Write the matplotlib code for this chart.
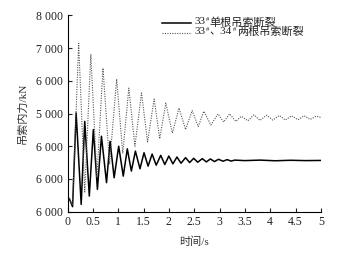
import matplotlib
matplotlib.use("Agg")
import matplotlib.pyplot as plt
from matplotlib.lines import Line2D
from matplotlib.offsetbox import (AnchoredOffsetbox, DrawingArea, HPacker,
                                  TextArea, VPacker)

plt.rcParams['font.family'] = ['Liberation Serif', 'Noto Sans CJK SC']

# extrema (time in s, force in kN)
t_single = [0.0, 0.04, 0.10, 0.17, 0.27, 0.34, 0.43, 0.51, 0.59, 0.67, 0.77, 0.84,
            0.92, 1.01, 1.10, 1.18, 1.26, 1.34, 1.43, 1.51, 1.59, 1.67, 1.75, 1.84,
            1.92, 2.00, 2.08, 2.16, 2.24, 2.33, 2.41, 2.49, 2.57, 2.66, 2.74, 2.82,
            2.90, 2.98, 3.07, 3.15, 3.23, 3.30, 3.50, 3.80, 4.10, 4.40, 4.70, 5.0]
f_single = [2450, 2380, 2150, 5020, 2220, 4760, 2475, 4510, 2680, 4305, 2885, 4150,
            3035, 4000, 3085, 3920, 3240, 3850, 3310, 3800, 3390, 3760, 3420, 3720,
            3440, 3700, 3460, 3670, 3480, 3650, 3500, 3630, 3510, 3620, 3520, 3610,
            3530, 3600, 3540, 3590, 3545, 3575, 3560, 3575, 3555, 3570, 3560, 3565]

t_double = [0.0, 0.04, 0.10, 0.22, 0.34, 0.46, 0.58, 0.70, 0.83, 0.97, 1.09, 1.21,
            1.33, 1.46, 1.58, 1.71, 1.82, 1.94, 2.07, 2.20, 2.33, 2.46, 2.58, 2.69,
            2.83, 2.97, 3.08, 3.20, 3.32, 3.43, 3.56, 3.68, 3.80, 3.93, 4.05, 4.18,
            4.30, 4.42, 4.55, 4.67, 4.79, 4.91, 5.0]
f_double = [2450, 2380, 2200, 7150, 2600, 6815, 3050, 6390, 3450, 6055, 3780, 5780,
            4000, 5630, 4130, 5445, 4230, 5320, 4400, 5170, 4510, 5090, 4600, 5070,
            4650, 4990, 4740, 4990, 4760, 4915, 4780, 4960, 4790, 4950, 4800, 4940,
            4800, 4930, 4810, 4930, 4820, 4920, 4880]

yticks = [2000, 3000, 4000, 5000, 6000, 7000, 8000]
ytick_labels = ['6 000', '6 000', '6 000', '5 000', '6 000', '7 000', '8 000']
xticks = [0, 0.5, 1, 1.5, 2, 2.5, 3, 3.5, 4, 4.5, 5]
xtick_labels = ['0', '0.5', '1', '1.5', '2', '2.5', '3', '3.5', '4', '4.5', '5']

# legend pieces: (number, superscript) parts followed by the Chinese tail
legend_rows = [
    [('33', '#')], '单根吊索断裂',
    [('33', '#'), ('、34', '#')], '两根吊索断裂',
]

fig = plt.figure(figsize=(3.48, 2.54), dpi=100)
ax = fig.add_axes([0.194, 0.167, 0.728, 0.772])

style_single = dict(color='black', lw=1.1)
style_double = dict(color='#555555', lw=0.8, ls=(0, (1, 1.2)))
ax.plot(t_single, f_single, **style_single)
ax.plot(t_double, f_double, **style_double)

ax.set_xlim(0, 5)
ax.set_ylim(2000, 8000)
ax.set_xticks(xticks)
ax.set_xticklabels(xtick_labels)
ax.set_yticks(yticks)
ax.set_yticklabels(ytick_labels)
ax.tick_params(direction='in', length=3, width=0.8, labelsize=8.5, colors='#222222')
for s in ['top', 'right']:
    ax.spines[s].set_visible(False)
for s in ['left', 'bottom']:
    ax.spines[s].set_linewidth(0.8)

ax.set_xlabel('时间/s', fontsize=8, color='#333333', labelpad=6)
ax.set_ylabel('吊索内力/kN', fontsize=8, color='#333333', labelpad=6)

# hand-built legend so the "#" can be a superscript next to CJK text
rows = []
for parts, tail, style in [(legend_rows[0], legend_rows[1], style_single),
                           (legend_rows[2], legend_rows[3], style_double)]:
    da = DrawingArea(21, 8)
    da.add_artist(Line2D([0, 21], [3.5, 3.5], **style))
    items = [da, TextArea(' ', textprops=dict(fontsize=5))]
    for num, sup in parts:
        items.append(TextArea(num, textprops=dict(fontsize=8, color='#222222')))
        items.append(TextArea(sup, textprops=dict(fontsize=4.8, color='#222222')))
    items.append(TextArea(tail, textprops=dict(fontsize=8, color='#222222')))
    rows.append(HPacker(children=items, align='top', pad=0, sep=0.5))
box = VPacker(children=rows, align='left', pad=0, sep=-1)
anchored = AnchoredOffsetbox(loc='upper left', child=box, frameon=False,
                             bbox_to_anchor=(0.35, 1.02), bbox_transform=ax.transAxes,
                             borderpad=0)
ax.add_artist(anchored)

fig.savefig('out.png', dpi=100)
